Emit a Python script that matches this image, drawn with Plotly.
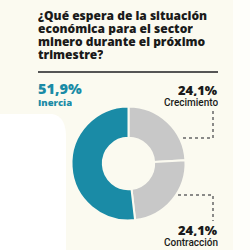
import plotly.graph_objects as go

labels = ["Crecimiento", "Contracción", "Inercia"]
values = [24.1, 24.1, 51.9]
colors = ["#c8c8c8", "#c8c8c8", "#1a8ba6"]
pct_text = ["24,1%", "24,1%", "51,9%"]
title_lines = ["¿Qué espera de la situación", "económica para el sector",
               "minero durante el próximo", "trimestre?"]

W = H = 250.0
def px(x): return x / W
def py(y): return 1 - y / H

cx, cy, r = 128.5, 163.5, 57

fig = go.Figure(go.Pie(
    labels=labels, values=values, sort=False, direction="clockwise",
    rotation=0, hole=0.45, textinfo="none", hoverinfo="skip",
    marker=dict(colors=colors, line=dict(color="#fbfaf0", width=2)),
    domain=dict(x=[px(cx - r), px(cx + r)], y=[py(cy + r), py(cy - r)]),
    showlegend=False,
))

shapes = [
    dict(type="path", xref="paper", yref="paper", layer="below",
         path=f"M {px(0)} {py(250)} L {px(0)} {py(114)} L {px(52)} {py(114)} Q {px(66)} {py(116)} {px(66)} {py(137)} L {px(66)} {py(250)} Z",
         fillcolor="#ffffff", line=dict(width=0)),
    dict(type="rect", xref="paper", yref="paper", layer="below",
         x0=px(233), x1=1, y0=0, y1=1, fillcolor="#fefefa", line=dict(width=0)),
    dict(type="line", xref="paper", yref="paper", x0=px(38), x1=px(218), y0=py(72), y1=py(72),
         line=dict(color="#555555", width=2)),
    dict(type="path", xref="paper", yref="paper",
         path=f"M {px(213)} {py(111)} L {px(213)} {py(138)} L {px(182)} {py(138)}",
         line=dict(color="#666666", width=1.5, dash="dot")),
    dict(type="path", xref="paper", yref="paper",
         path=f"M {px(178)} {py(195)} L {px(213)} {py(195)} L {px(213)} {py(221)}",
         line=dict(color="#666666", width=1.5, dash="dot")),
]

F = "Open Sans"
DARK = "#1a1a1a"
ann = []
for i, line in enumerate(title_lines):
    ann.append(dict(text=line, x=px(37), y=py(15.5 + 13 * i), xanchor="left", yanchor="middle",
                    height=13, font=dict(family=F, size=12, color=DARK, weight=800)))
ann += [
    dict(text=pct_text[2], x=px(37), y=py(88.5), xanchor="left", yanchor="middle", height=15,
         font=dict(family=F, size=14.5, color=colors[2], weight=800)),
    dict(text=labels[2], x=px(37), y=py(102.5), xanchor="left", yanchor="middle", height=10,
         font=dict(family=F, size=9.5, color=colors[2], weight=800)),
    dict(text=pct_text[0], x=px(219), y=py(89.5), xanchor="right", yanchor="middle", height=13,
         font=dict(family=F, size=13, color=DARK, weight=800)),
    dict(text=labels[0], x=px(219), y=py(102), xanchor="right", yanchor="middle", height=10,
         font=dict(family="Roboto", size=10, color=DARK, weight=500)),
    dict(text=pct_text[1], x=px(219), y=py(229.5), xanchor="right", yanchor="middle", height=13,
         font=dict(family=F, size=13, color=DARK, weight=800)),
    dict(text=labels[1], x=px(219), y=py(242), xanchor="right", yanchor="middle", height=10,
         font=dict(family="Roboto", size=10, color=DARK, weight=500)),
]
for a in ann:
    a.update(xref="paper", yref="paper", showarrow=False, borderpad=0)

fig.update_layout(
    width=250, height=250, margin=dict(l=0, r=0, t=0, b=0),
    paper_bgcolor="#fbfaf0", plot_bgcolor="#fbfaf0",
    shapes=shapes, annotations=ann,
)
fig.write_html("out.html", config={"displayModeBar": False})
